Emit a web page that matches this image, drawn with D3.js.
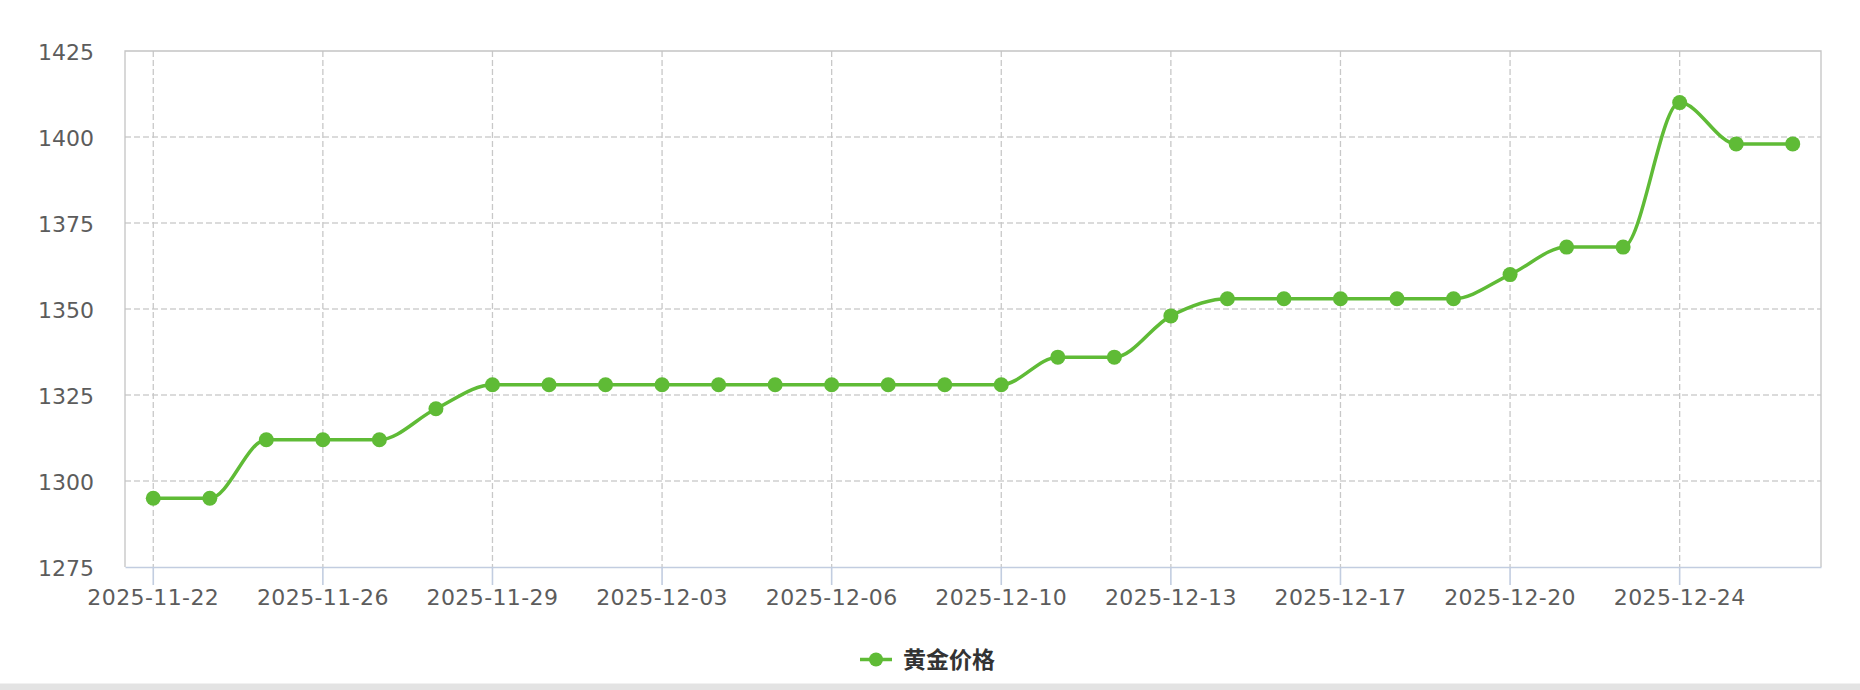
<!DOCTYPE html>
<html>
<head>
<meta charset="utf-8">
<script src="https://cdn.jsdelivr.net/npm/d3@7"></script>
<style>
	body { margin: 0; background: #fff; }
	svg { display: block; }
</style>
</head>
<body>
<svg class="chart"></svg>
<script>
// dates (Sundays are skipped), only every third one is labelled
var dates = ["2025-11-22", "2025-11-24", "2025-11-25", "2025-11-26", "2025-11-27", "2025-11-28",
	"2025-11-29", "2025-12-01", "2025-12-02", "2025-12-03", "2025-12-04", "2025-12-05",
	"2025-12-06", "2025-12-08", "2025-12-09", "2025-12-10", "2025-12-11", "2025-12-12",
	"2025-12-13", "2025-12-15", "2025-12-16", "2025-12-17", "2025-12-18", "2025-12-19",
	"2025-12-20", "2025-12-22", "2025-12-23", "2025-12-24", "2025-12-25", "2025-12-26"];
var prices = [1295, 1295, 1312, 1312, 1312, 1321, 1328, 1328, 1328, 1328, 1328, 1328,
	1328, 1328, 1328, 1328, 1336, 1336, 1348, 1353, 1353, 1353, 1353, 1353,
	1360, 1368, 1368, 1410, 1398, 1398];
var yTicks = [1275, 1300, 1325, 1350, 1375, 1400, 1425];
var seriesName = "黄金价格";

var width = 1860, height = 690;
var plotLeft = 125, plotRight = 1821, plotTop = 51, plotBottom = 567;
var green = "#5fbb36";

var svg = d3.select(".chart")
	.attr("width", width)
	.attr("height", height);

var x = d3.scaleBand().domain(dates).range([plotLeft, plotRight]);
var y = d3.scaleLinear().domain([1275, 1425]).range([plotBottom, plotTop]);
var cx = function(d) { return x(d) + x.bandwidth() / 2; };

var labelDates = dates.filter(function(d, i) { return i % 3 === 0; });

// horizontal grid
svg.append("g")
	.selectAll("line")
	.data(yTicks.slice(1, -1))
	.enter()
	.append("line")
		.attr("x1", plotLeft)
		.attr("x2", plotRight)
		.attr("y1", function(d) { return y(d); })
		.attr("y2", function(d) { return y(d); })
		.attr("stroke", "#cfcfcf")
		.attr("stroke-width", 1.3)
		.attr("stroke-dasharray", "6,3");

// vertical grid
svg.append("g")
	.selectAll("line")
	.data(labelDates)
	.enter()
	.append("line")
		.attr("x1", cx)
		.attr("x2", cx)
		.attr("y1", plotTop)
		.attr("y2", plotBottom)
		.attr("stroke", "#c8c8c8")
		.attr("stroke-width", 1.3)
		.attr("stroke-dasharray", "6,3");

// box: top, left, right
svg.append("path")
	.attr("d", "M" + plotLeft + "," + plotBottom + "V" + plotTop + "H" + plotRight + "V" + plotBottom)
	.attr("fill", "none")
	.attr("stroke", "#c4c4c4")
	.attr("stroke-width", 1.3);

// y axis
var yAxis = svg.append("g")
	.attr("transform", "translate(" + plotLeft + ",0)")
	.call(d3.axisLeft(y).tickValues(yTicks).tickSize(0).tickPadding(31).tickFormat(d3.format("d")));
yAxis.select(".domain").remove();
yAxis.selectAll("text")
	.attr("fill", "#5c5c5c")
	.attr("dy", "0.38em")
	.style("font", "22px 'DejaVu Sans'");

// x axis
var xAxis = svg.append("g")
	.attr("transform", "translate(0," + plotBottom + ")")
	.call(d3.axisBottom(x).tickValues(labelDates).tickSize(18).tickPadding(4).tickSizeOuter(0));
xAxis.select(".domain")
	.attr("stroke", "#c2cde0")
	.attr("stroke-width", 1.6);
xAxis.selectAll(".tick line")
	.attr("stroke", "#c2cde0")
	.attr("stroke-width", 1.6);
xAxis.selectAll("text")
	.attr("fill", "#5c5c5c")
	.style("font", "22px 'DejaVu Sans'")
	.style("letter-spacing", "0.4px");

// line
var line = d3.line()
	.x(function(d, i) { return cx(dates[i]); })
	.y(function(d) { return y(d); })
	.curve(d3.curveMonotoneX);

svg.append("path")
	.datum(prices)
	.attr("d", line)
	.attr("fill", "none")
	.attr("stroke", green)
	.attr("stroke-width", 3.5);

svg.append("g")
	.selectAll("circle")
	.data(prices)
	.enter()
	.append("circle")
		.attr("cx", function(d, i) { return cx(dates[i]); })
		.attr("cy", function(d) { return y(d); })
		.attr("r", 7.5)
		.attr("fill", green);

// legend
var legend = svg.append("g").attr("transform", "translate(0,659.5)");
legend.append("line")
	.attr("x1", 860)
	.attr("x2", 892)
	.attr("stroke", green)
	.attr("stroke-width", 3.5);
legend.append("circle")
	.attr("cx", 876)
	.attr("r", 7)
	.attr("fill", green);
legend.append("text")
	.attr("x", 903)
	.attr("dy", "0.36em")
	.attr("fill", "#333")
	.style("font", "bold 23px 'Noto Sans CJK SC'")
	.text(seriesName);

// bottom divider
svg.append("rect")
	.attr("x", 0)
	.attr("y", 683.5)
	.attr("width", width)
	.attr("height", 7)
	.attr("fill", "#e3e3e3");
</script>
</body>
</html>
